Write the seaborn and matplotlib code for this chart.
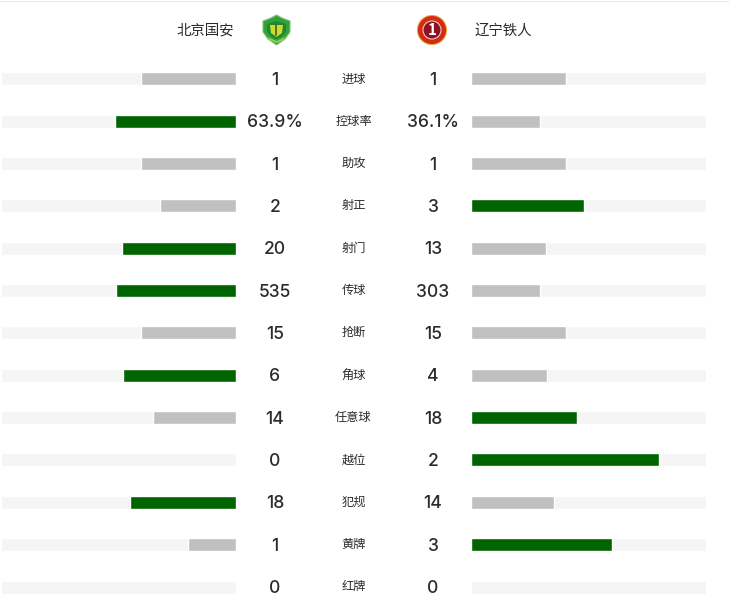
import pandas as pd
import seaborn as sns
import matplotlib.pyplot as plt
from matplotlib.patches import Circle, Polygon, Rectangle

# Match stats, top to bottom
stats = ['进球', '控球率', '助攻', '射正', '射门', '传球', '抢断', '角球', '任意球', '越位', '犯规', '黄牌', '红牌']
home_labels = ['1', '63.9%', '1', '2', '20', '535', '15', '6', '14', '0', '18', '1', '0']
away_labels = ['1', '36.1%', '1', '3', '13', '303', '15', '4', '18', '2', '14', '3', '0']
home_values = [1, 63.9, 1, 2, 20, 535, 15, 6, 14, 0, 18, 1, 0]
away_values = [1, 36.1, 1, 3, 13, 303, 15, 4, 18, 2, 14, 3, 0]

# Bar lengths as a share of the track
home_share = [0.402, 0.513, 0.402, 0.325, 0.483, 0.509, 0.402, 0.479, 0.353, 0.0, 0.449, 0.205, 0.0]
away_share = [0.405, 0.295, 0.405, 0.479, 0.320, 0.295, 0.405, 0.325, 0.452, 0.799, 0.354, 0.602, 0.0]
track = [1.0] * len(stats)

home_team = '北京国安'
away_team = '辽宁铁人'

GREEN = '#006400'
GREY = '#c0c0c0'
TRACK = '#f5f5f5'
TEXT = '#2b2b2b'

W, H = 729, 607

sns.set_theme(style='white')
plt.rcParams['font.family'] = ['Noto Sans CJK SC', 'DejaVu Sans']

fig = plt.figure(figsize=(W / 100, H / 100), dpi=100, facecolor='white')


def box(x0, y0, x1, y1):
    # pixel box (top-left origin) to figure fraction
    return [x0 / W, 1 - y1 / H, (x1 - x0) / W, (y1 - y0) / H]


def draw_side(ax, share, mine, other):
    df = pd.DataFrame({'stat': stats, 'share': share, 'track': track})
    sns.barplot(data=df, y='stat', x='track', color=TRACK, width=0.307, saturation=1, ax=ax, order=stats)
    colors = [GREEN if a > b else GREY for a, b in zip(mine, other)]
    df['color'] = colors
    sns.barplot(data=df, y='stat', x='share', hue='stat', hue_order=stats,
                palette=dict(zip(stats, colors)), width=0.307, saturation=1,
                legend=False, dodge=False, ax=ax, order=stats)
    ax.set_xlim(0, 1)
    ax.set_ylim(12.47, -0.5)
    ax.axis('off')


# rows are 42.33px apart, first one centred at y=79
ax_home = fig.add_axes(box(0.9, 57.5, 236, 607))
draw_side(ax_home, home_share, home_values, away_values)
ax_home.invert_xaxis()

ax_away = fig.add_axes(box(470.9, 57.5, 706, 607))
draw_side(ax_away, away_share, away_values, home_values)

# value and stat columns
for i, stat in enumerate(stats):
    y = 1 - (58.8 + (i + 0.5) * 42.33) / H
    fig.text(275 / W, y - 0.6 / H, home_labels[i], ha='center', va='center', fontsize=12.6, color=TEXT,
             family='Inter', fontweight=500)
    fig.text(433 / W, y - 0.6 / H, away_labels[i], ha='center', va='center', fontsize=12.6, color=TEXT,
             family='Inter', fontweight=500)
    fig.text(353.5 / W, y + 1 / H, stat, ha='center', va='center', fontsize=8.8, color=TEXT)

# header
fig.text(234 / W, 1 - 30.6 / H, home_team, ha='right', va='center', fontsize=10.4, color=TEXT, fontweight=500)
fig.text(474.5 / W, 1 - 30.6 / H, away_team, ha='left', va='center', fontsize=10.4, color=TEXT, fontweight=500)
fig.add_artist(Rectangle((0, 1 - 2 / H), 1, 1 / H, transform=fig.transFigure, color='#e6e6e6', lw=0))

# badges, in pixel coordinates on a full-figure overlay
over = fig.add_axes([0, 0, 1, 1], facecolor='none')
over.set_xlim(0, W)
over.set_ylim(H, 0)
over.axis('off')

shield = [(263, 21), (271, 18), (276.5, 15), (282, 18), (290, 21), (290, 32), (285, 39), (276.5, 45), (268, 39), (263, 32)]
over.add_patch(Polygon(shield, closed=True, fc='#35a035', ec='#7cc47c', lw=0.8))
inner = [(267, 24), (276.5, 21), (286, 24), (286, 32), (281, 37), (276.5, 39), (272, 37), (267, 32)]
over.add_patch(Polygon(inner, closed=True, fc='#1a8a35', ec='none'))
over.add_patch(Polygon([(270, 25), (283, 25), (282, 33), (276.5, 37), (271, 33)], closed=True, fc='#d8d62a', ec='none'))
over.plot([276.5, 276.5], [25, 35], color='#236b2c', lw=1.2)
over.add_patch(Polygon([(268, 37), (276.5, 41), (285, 37), (284, 40), (276.5, 43), (269, 40)], closed=True, fc='#8ccf5a', ec='none'))

over.add_patch(Circle((432, 30), 15, fc='#e8a020', ec='none'))
over.add_patch(Circle((432, 30), 14, fc='#d42a1e', ec='none'))
over.add_patch(Circle((432, 30), 9.5, fc='#f3dcc8', ec='none'))
over.add_patch(Circle((432, 30), 8.5, fc='#8f1220', ec='none'))
over.text(432, 30, '1', ha='center', va='center', fontsize=11, fontweight='bold', color='white')

fig.savefig('out.png', dpi=100)
